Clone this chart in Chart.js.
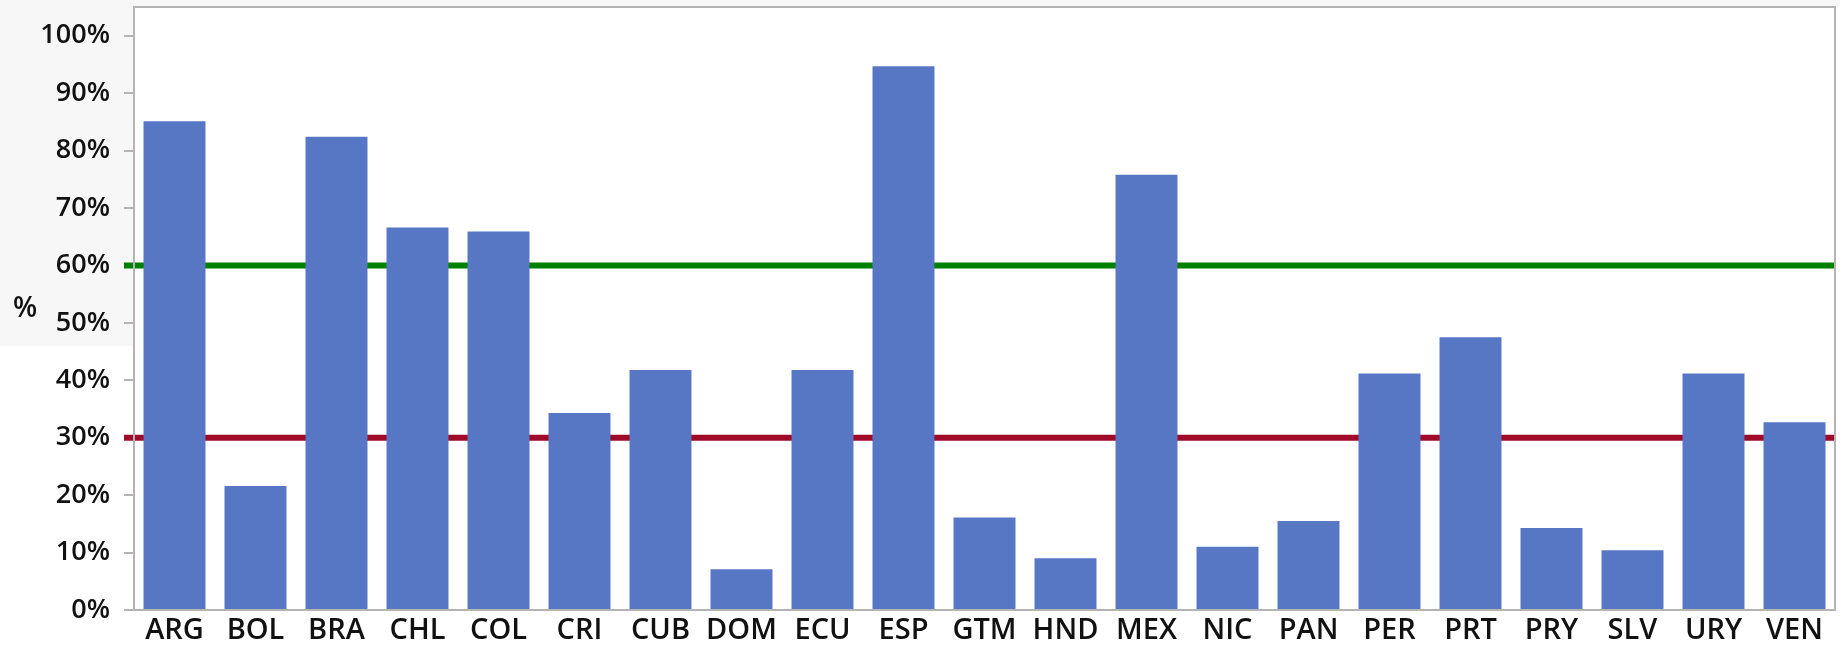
<!DOCTYPE html>
<html>
<head>
<meta charset="utf-8">
<script src="https://cdn.jsdelivr.net/npm/chart.js@4/dist/chart.umd.min.js"></script>
<style>
html,body{margin:0;padding:0;background:#ffffff;}
#wrap{width:1840px;height:648px;position:relative;}
</style>
</head>
<body>
<div id="wrap"><canvas id="c" width="1840" height="648"></canvas></div>
<script>
const categories = ["ARG","BOL","BRA","CHL","COL","CRI","CUB","DOM","ECU","ESP","GTM","HND","MEX","NIC","PAN","PER","PRT","PRY","SLV","URY","VEN"];
const shareValues = [85.1,21.6,82.4,66.6,65.9,34.3,41.8,7.1,41.8,94.7,16.1,9.0,75.8,11.0,15.5,41.2,47.5,14.3,10.4,41.2,32.7];
const thresholdValues = [60, 30];
const yTickValues = [0,10,20,30,40,50,60,70,80,90,100];
const yAxisTitle = "%";

const FONT = "'Open Sans', 'Noto Sans', sans-serif";
const thresholdColors = ["#008000", "#9f0a28"];

const decorPlugin = {
  id: 'decor',
  beforeDraw(chart) {
    const ctx = chart.ctx;
    const a = chart.chartArea;
    ctx.save();
    ctx.fillStyle = '#f7f7f7';
    ctx.fillRect(0, 0, a.left - 1, 346);
    ctx.fillRect(0, 0, chart.width, a.top - 1);
    ctx.fillStyle = '#111111';
    ctx.font = "600 28px " + FONT;
    ctx.textAlign = 'center';
    ctx.textBaseline = 'middle';
    ctx.fillText(yAxisTitle, 25, (a.top + a.bottom) / 2 + 1);
    ctx.restore();
  },
  beforeDatasetsDraw(chart) {
    const ctx = chart.ctx;
    const a = chart.chartArea;
    const y = chart.scales.y;
    ctx.save();
    thresholdValues.forEach((v, i) => {
      const py = y.getPixelForValue(v);
      ctx.strokeStyle = thresholdColors[i];
      ctx.lineWidth = 6;
      ctx.beginPath();
      ctx.moveTo(a.left - 10, py);
      ctx.lineTo(a.right - 1, py);
      ctx.stroke();
    });
    ctx.restore();
  },
  afterDraw(chart) {
    const ctx = chart.ctx;
    const a = chart.chartArea;
    ctx.save();
    ctx.strokeStyle = '#b4b4b4';
    ctx.lineWidth = 2;
    ctx.strokeRect(a.left, a.top, a.right - a.left, a.bottom - a.top);
    ctx.restore();
  }
};

new Chart(document.getElementById('c'), {
  type: 'bar',
  data: {
    labels: categories,
    datasets: [{
      data: shareValues,
      backgroundColor: '#5777c4',
      borderWidth: 0,
      categoryPercentage: 1.0,
      barPercentage: 0.765
    }]
  },
  options: {
    responsive: false,
    animation: false,
    layout: { padding: { top: 7, right: 5, left: 0, bottom: 0 } },
    plugins: { legend: { display: false }, tooltip: { enabled: false } },
    scales: {
      x: {
        afterFit(s) { s.height = 38; s.paddingLeft = 0; s.paddingRight = 0; },
        grid: { display: false, drawTicks: false },
        border: { display: false },
        ticks: { color: '#111111', font: { family: FONT, size: 29, weight: '600' }, padding: 3, maxRotation: 0, autoSkip: false }
      },
      y: {
        min: 0,
        max: 105,
        afterFit(s) { s.width = 134; s.paddingTop = 0; s.paddingBottom = 0; },
        afterBuildTicks(s) { s.ticks = yTickValues.map(v => ({ value: v })); },
        grid: { display: true, drawOnChartArea: false, drawTicks: true, tickLength: 10, color: '#b4b4b4', lineWidth: 2 },
        border: { display: false },
        ticks: {
          color: '#111111',
          font: { family: FONT, size: 27, weight: '600' },
          padding: 14,
          callback: (v) => v + '%'
        }
      }
    }
  },
  plugins: [decorPlugin]
});
</script>
</body>
</html>
